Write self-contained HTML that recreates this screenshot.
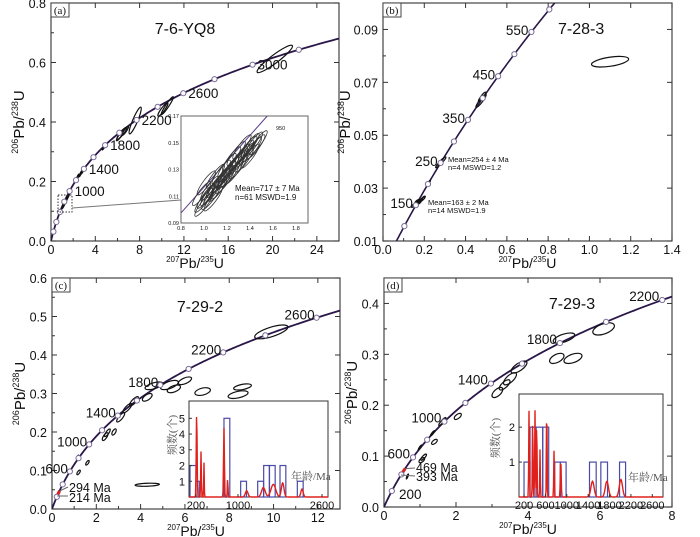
<!DOCTYPE html>
<html><head><meta charset="utf-8">
<style>
html,body{margin:0;padding:0;background:#fff;}
svg{display:block;font-family:"Liberation Sans",Arial,sans-serif;}
.cj{font-family:"Liberation Serif","Noto Serif CJK SC","Noto Sans CJK SC",serif;}
</style></head>
<body>
<svg id="fig" width="700" height="537" viewBox="0 0 700 537" xmlns="http://www.w3.org/2000/svg"></svg>
<script>
// ---------- data arrays ----------
const markerAgesA = [200,400,600,800,1000,1200,1400,1600,1800,2000,2200,2400,2600,2800,3000,3200];
const labelAgesA = [1000,1400,1800,2200,2600,3000];
const ellipsesA = [ // x, y, sx, sy, rho
 [20.2,0.612,1.6,0.046,0.93],[7.6,0.405,0.55,0.045,0.9],[10.5,0.455,0.55,0.030,0.95],[10.1,0.442,0.45,0.022,0.9],
 [6.4,0.362,0.45,0.020,0.9],[6.2,0.352,0.30,0.015,0.9],[6.7,0.37,0.30,0.015,0.9],[4.8,0.318,0.18,0.012,0.9],
 [2.7,0.228,0.15,0.012,0.95],[2.9,0.238,0.15,0.012,0.95],[2.4,0.215,0.12,0.010,0.95],
 [1.2,0.125,0.12,0.012,0.95],[1.3,0.132,0.12,0.012,0.95],[1.4,0.14,0.12,0.012,0.95],[1.5,0.148,0.12,0.012,0.95],[1.6,0.155,0.1,0.01,0.95],[1.1,0.118,0.1,0.01,0.95]
];
const insetA = [
 [1.00,0.107],[1.02,0.110],[1.05,0.112],[1.08,0.114],[1.10,0.118],[1.12,0.120],[1.15,0.122],[1.17,0.125],[1.20,0.127],
 [1.22,0.130],[1.25,0.133],[1.27,0.135],[1.30,0.138],[1.32,0.140],[1.35,0.143],[1.38,0.146],[1.40,0.148],[1.43,0.149],
 [1.05,0.116],[1.12,0.115],[1.18,0.121],[1.20,0.133],[1.26,0.128],[1.30,0.132],[1.35,0.137],[1.10,0.125],[0.98,0.112],
 [1.15,0.128],[1.24,0.138],[1.40,0.140],[1.45,0.147],[1.08,0.108],[1.02,0.120],[1.28,0.142],[1.33,0.147],
 [1.00,0.104],[1.06,0.109],[1.14,0.117],[1.19,0.124],[1.23,0.126],[1.29,0.135],[1.36,0.141],[1.42,0.145],[1.47,0.150]
];
const markerAgesB = [100,150,200,250,300,350,400,450,500,550,600];
const labelAgesB = [150,250,350,450,550];
const ellipsesB = [
 [1.10,0.0778,0.090,0.0020,0.5],[0.475,0.0630,0.025,0.0025,0.92],[0.48,0.0645,0.018,0.0018,0.9],
 [0.285,0.0402,0.020,0.0016,0.9],[0.27,0.0390,0.015,0.0013,0.9],[0.22,0.0320,0.010,0.0009,0.9],
 [0.15,0.0235,0.012,0.0008,0.8],[0.16,0.0240,0.012,0.0008,0.8],[0.17,0.0248,0.012,0.0008,0.8],[0.18,0.0252,0.012,0.0008,0.8],
 [0.19,0.0258,0.012,0.0008,0.8],[0.195,0.0262,0.010,0.0008,0.8],[0.175,0.0245,0.010,0.0007,0.8],[0.165,0.0250,0.010,0.0007,0.8]
];
const markerAgesC = [200,400,600,800,1000,1200,1400,1600,1800,2000,2200,2400,2600];
const labelAgesC = [600,1000,1400,1800,2200,2600];
const ellipsesC = [
 [9.9,0.46,0.75,0.018,0.7],[8.6,0.317,0.40,0.008,0.5],[8.4,0.297,0.45,0.010,0.5],[6.8,0.305,0.35,0.010,0.4],
 [6.0,0.333,0.30,0.010,0.6],[5.5,0.312,0.30,0.010,0.5],[5.3,0.322,0.40,0.012,0.6],[4.6,0.320,0.40,0.010,0.6],
 [4.3,0.290,0.22,0.010,0.6],[3.7,0.280,0.20,0.012,0.8],[3.4,0.262,0.20,0.012,0.8],[3.1,0.238,0.18,0.012,0.8],
 [2.5,0.198,0.13,0.010,0.8],[2.4,0.188,0.13,0.010,0.7],[2.8,0.200,0.10,0.008,0.6],[1.6,0.120,0.08,0.006,0.7],
 [1.2,0.095,0.08,0.006,0.7],[4.3,0.063,0.55,0.004,0.3],[1.15,0.135,0.05,0.005,0.9]
];
const markerAgesD = [200,400,600,800,1000,1200,1400,1600,1800,2000,2200];
const labelAgesD = [200,600,1000,1400,1800,2200];
const ellipsesD = [
 [5.0,0.332,0.30,0.010,0.6],[6.1,0.350,0.30,0.012,0.5],[4.8,0.292,0.20,0.010,0.5],[5.25,0.292,0.25,0.010,0.5],
 [3.75,0.275,0.22,0.012,0.7],[3.5,0.252,0.18,0.012,0.7],[3.35,0.240,0.15,0.010,0.7],[3.15,0.225,0.15,0.010,0.6],
 [2.05,0.178,0.10,0.006,0.6],[1.62,0.168,0.10,0.008,0.9],[1.4,0.128,0.08,0.005,0.6],[1.35,0.145,0.06,0.005,0.9],
 [1.1,0.098,0.08,0.006,0.8],[1.05,0.092,0.08,0.005,0.6],[1.0,0.117,0.05,0.005,0.9],[0.65,0.060,0.03,0.005,0.9],[4.25,0.190,0.20,0.008,0.5]
];
// histogram insets
const binStartsC = [86,200,733,1051,1375,1489,1597,1800,2130];
const binEndsC =   [200,263,844,1162,1486,1600,1708,1911,2241];
const binCountsC = [2,1,5,1,1,2,2,2,1];
const peakAgesC = [213,296,352,733,803,1165,1483,1673,1851,2219];
const peakHeightsC = [5.5,2.9,2.2,4.4,1.2,0.4,0.6,0.8,0.9,0.5];
const peakSigmaC = [8,6,5,8,6,25,35,45,25,22];
const binStartsD = [200,312,425,550,775,881,1425,1637,1987];
const binEndsD =   [312,425,550,662,881,987,1550,1762,2100];
const binCountsD = [1,2,2,2,1,1,1,1,1];
const peakAgesD = [294,362,406,437,500,625,762,887,1481,1750,2012];
const peakHeightsD = [2.5,2.4,2.5,2.3,1.4,2.8,1.35,1.1,0.45,0.45,0.5];
const peakSigmaD = [6,6,6,6,5,6,6,8,30,30,30];

// ---------- helpers ----------
const NS='http://www.w3.org/2000/svg';
const svg=document.getElementById('fig');
const L235=9.8485e-10, L238=1.55125e-10;
function c7(t){return Math.exp(L235*t*1e6)-1;}
function c6(t){return Math.exp(L238*t*1e6)-1;}
function mk(tag,attrs,parent,name){
  const e=document.createElementNS(NS,tag);
  for(const k in attrs)e.setAttribute(k,attrs[k]);
  
  
  (parent||svg).appendChild(e);return e;
}
function txt(s,x,y,size,anchor,parent,name,extra){
  const t=mk('text',Object.assign({x:x,y:y,'font-size':size,'text-anchor':anchor||'middle',fill:'#111'},extra||{}),parent,name);
  t.textContent=s;return t;
}
function makeAxes(p){
  const g=mk('g',{},svg,p.name);
  const sx=v=>p.L+(v-p.xd[0])/(p.xd[1]-p.xd[0])*(p.R-p.L);
  const sy=v=>p.B-(v-p.yd[0])/(p.yd[1]-p.yd[0])*(p.B-p.T);
  mk('rect',{x:p.L,y:p.T,width:p.R-p.L,height:p.B-p.T,fill:'none',stroke:'#444','stroke-width':1.2},g,'plot-frame');
  p.xt.forEach((v,i)=>{
    const x=sx(v);
    mk('line',{x1:x,x2:x,y1:p.B,y2:p.B-5,stroke:'#333'},g,'x-tick');
    mk('line',{x1:x,x2:x,y1:p.T,y2:p.T+5,stroke:'#333'},g,'x-tick-top');
    txt(p.xl[i],x,p.B+13,12.5,'middle',g,'x-tick-label');
    if(i<p.xt.length-1){const xm=sx((v+p.xt[i+1])/2);
      mk('line',{x1:xm,x2:xm,y1:p.B,y2:p.B-3,stroke:'#333'},g,'x-minor-tick');}
  });
  p.yt.forEach((v,i)=>{
    const y=sy(v);
    mk('line',{x1:p.L,x2:p.L+5,y1:y,y2:y,stroke:'#333'},g,'y-tick');
    mk('line',{x1:p.R,x2:p.R-5,y1:y,y2:y,stroke:'#333'},g,'y-tick-right');
    txt(p.yl[i],p.L-5,y+5,12.5,'end',g,'y-tick-label');
    const nv=v+(p.yt[1]-p.yt[0])/2;
    if(nv<p.yd[1]){const ym=sy(nv);
      mk('line',{x1:p.L,x2:p.L+3,y1:ym,y2:ym,stroke:'#333'},g,'y-minor-tick');}
  });
  mk('rect',{x:p.L,y:p.T,width:18,height:14,fill:'#fff',stroke:'#444','stroke-width':1},g,'panel-letter-box');
  txt(p.letter,p.L+9,p.T+11,11,'middle',g,'panel-letter',{'font-family':'Liberation Serif,serif'});
  const xt=mk('text',{x:(p.L+p.R)/2,y:p.B+27,'font-size':14,'text-anchor':'middle',fill:'#111'},g,'x-axis-title');
  xt.innerHTML='<tspan font-size="8" dy="-6">207</tspan><tspan dy="6">Pb/</tspan><tspan font-size="8" dy="-6">235</tspan><tspan dy="6">U</tspan>';
  const cyv=(p.T+p.B)/2;
  const yt=mk('text',{x:0,y:0,'font-size':15,'text-anchor':'middle',fill:'#111',transform:`translate(${p.L-p.yto},${cyv}) rotate(-90)`},g,'y-axis-title');
  yt.innerHTML='<tspan font-size="9" dy="-6">206</tspan><tspan dy="6">Pb/</tspan><tspan font-size="9" dy="-6">238</tspan><tspan dy="6">U</tspan>';
  const clipId='clip'+p.letter.replace(/\W/g,'');
  const cp=mk('clipPath',{id:clipId},g,'clip');
  mk('rect',{x:p.L,y:p.T,width:p.R-p.L,height:p.B-p.T},cp,'clip-rect');
  const inner=mk('g',{'clip-path':`url(#${clipId})`},g,'plot-area');
  return {g,inner,sx,sy};
}
function concordia(ax,tmax,color,w,tmin,name){
  let d='';const t0=tmin||0;
  for(let t=t0;t<=tmax;t+=(tmax-t0)/300){d+=(d?'L':'M')+ax.sx(c7(t)).toFixed(2)+','+ax.sy(c6(t)).toFixed(2);}
  mk('path',{d:d,fill:'none',stroke:color,'stroke-width':w},ax.inner,name);
}
function markers(ax,ages){
  ages.forEach(a=>{
    mk('circle',{cx:ax.sx(c7(a)),cy:ax.sy(c6(a)),r:2.6,fill:'#fff',stroke:'#7a6c98','stroke-width':1},ax.inner,'age-marker');
  });
}
function ellipse(ax,e,parent,color,w,name){
  const [x,y,ex,ey,rho]=e;
  const kx=ax.sx(x+ex)-ax.sx(x), ky=ax.sy(y+ey)-ax.sy(y);
  const a=kx*kx,c=ky*ky,b=rho*kx*ky;
  const m=(a+c)/2,dd=Math.sqrt(((a-c)/2)**2+b*b);
  const r1=Math.sqrt(m+dd),r2=Math.sqrt(Math.max(m-dd,0.3));
  const th=0.5*Math.atan2(2*b,a-c)*180/Math.PI;
  mk('ellipse',{cx:0,cy:0,rx:r1,ry:r2,fill:'none',stroke:color||'#111','stroke-width':w||1.2,
    transform:`translate(${ax.sx(x).toFixed(2)},${ax.sy(y).toFixed(2)}) rotate(${th.toFixed(2)})`},parent||ax.inner,name||'error-ellipse');
}
function ageLabels(ax,ages,anchor,dx,dy){
  ages.forEach(a=>txt(String(a),ax.sx(c7(a))+dx,ax.sy(c6(a))+dy,13.5,anchor,ax.g,'age-label'));
}
function histInset(o){
  const g=mk('g',{},svg,o.name);
  mk('rect',{x:o.L,y:o.T,width:o.R-o.L,height:o.B-o.T,fill:'#fff',stroke:'#333','stroke-width':1},g,'inset-frame');
  const hx=v=>o.L+(v-o.xd[0])/(o.xd[1]-o.xd[0])*(o.R-o.L);
  const hy=v=>o.B-v/o.ymax*(o.B-o.T);
  o.bs.forEach((s,i)=>{
    mk('rect',{x:hx(s),y:hy(o.bc[i]),width:hx(o.be[i])-hx(s),height:hy(0)-hy(o.bc[i]),fill:'none',stroke:'#4a4aa8','stroke-width':1.2},g,'histogram-bar');
  });
  let d='';
  for(let px=o.L;px<=o.R;px+=0.5){
    const age=o.xd[0]+(px-o.L)/(o.R-o.L)*(o.xd[1]-o.xd[0]);
    let v=0;o.pa.forEach((p,i)=>{v+=o.ph[i]*Math.exp(-0.5*((age-p)/o.ps[i])**2);});
    d+=(d?'L':'M')+px.toFixed(1)+','+hy(Math.min(v,o.ymax)).toFixed(2);
  }
  mk('path',{d:d,fill:'none',stroke:'#e0201c','stroke-width':1.4},g,'probability-density-curve');
  o.xt.forEach(v=>{
    mk('line',{x1:hx(v),x2:hx(v),y1:o.B,y2:o.B-3,stroke:'#333'},g,'inset-x-tick');
    txt(String(v),hx(v),o.B+12,11,'middle',g,'inset-x-tick-label');
  });
  o.yt.forEach(v=>{
    mk('line',{x1:o.L,x2:o.L+3,y1:hy(v),y2:hy(v),stroke:'#333'},g,'inset-y-tick');
    txt(String(v),o.L-4,hy(v)+4,11,'end',g,'inset-y-tick-label');
  });
  txt('频数(个)',0,0,11,'middle',g,'inset-y-axis-title',{transform:`translate(${o.ylx},${o.yly}) rotate(-90)`,fill:'#555','class':'cj'});
  txt('年龄/Ma',o.agx,o.agy,11,'start',g,'inset-age-label',{fill:'#555','class':'cj'});
}

// ---------- Panel (a) ----------
const A=makeAxes({name:'panel-a',letter:'(a)',L:51,R:339,T:3,B:241,xd:[0,26],yd:[0,0.8],yto:27,
  xt:[0,4,8,12,16,20,24],xl:['0','4','8','12','16','20','24'],yt:[0,0.2,0.4,0.6,0.8],yl:['0.0','0.2','0.4','0.6','0.8']});
concordia(A,3500,'#2a1648',1.8,0,'concordia-curve');
ellipsesA.forEach(e=>ellipse(A,e));
markers(A,markerAgesA);
ageLabels(A,labelAgesA,'start',5,5);
txt('7-6-YQ8',185,34,16,'middle',A.g,'sample-title');
mk('rect',{x:58,y:195,width:14,height:17,fill:'none',stroke:'#333','stroke-dasharray':'1.5,1.5'},A.g,'zoom-box');
mk('line',{x1:72,y1:208,x2:181,y2:200,stroke:'#777'},A.g,'zoom-leader-line');
(function(){
  const o={L:181,R:308,T:116,B:223};
  const g=mk('g',{},svg,'inset-a');
  mk('rect',{x:o.L,y:o.T,width:o.R-o.L,height:o.B-o.T,fill:'#fff',stroke:'#666'},g,'inset-frame');
  const ax={sx:v=>181+(v-0.8)*115,sy:v=>223-(v-0.09)*1337.5,inner:g};
  mk('line',{x1:ax.sx(0.8),y1:ax.sy(0.0975),x2:ax.sx(1.55),y2:ax.sy(0.17),stroke:'#5a3a8a','stroke-width':1},g,'inset-concordia');
  insetA.forEach(c=>ellipse(ax,[c[0],c[1],0.08,0.009,0.9],g,'#333',0.8,'inset-ellipse'));
  [0.8,1.0,1.2,1.4,1.6,1.8].forEach(v=>txt(v.toFixed(1),ax.sx(v),230,5.5,'middle',g,'inset-x-tick-label'));
  [0.09,0.11,0.13,0.15,0.17].forEach(v=>txt(v.toFixed(2),179,ax.sy(v)+2,5.5,'end',g,'inset-y-tick-label'));
  txt('950',276,130,5.5,'start',g,'inset-age-label');
  txt('Mean=717 ± 7 Ma',235,191,8,'start',g,'mean-age-text');
  txt('n=61 MSWD=1.9',235,200,8,'start',g,'mswd-text');
})();

// ---------- Panel (b) ----------
const Bp=makeAxes({name:'panel-b',letter:'(b)',L:383,R:672,T:3,B:241,xd:[0,1.4],yd:[0.01,0.1],yto:33,
  xt:[0,0.2,0.4,0.6,0.8,1.0,1.2,1.4],xl:['0.0','0.2','0.4','0.6','0.8','1.0','1.2','1.4'],
  yt:[0.01,0.03,0.05,0.07,0.09],yl:['0.01','0.03','0.05','0.07','0.09']});
concordia(Bp,700,'#2a1648',1.6,50,'concordia-curve');
ellipsesB.forEach(e=>ellipse(Bp,e));
markers(Bp,markerAgesB);
ageLabels(Bp,labelAgesB,'end',-3,3);
txt('7-28-3',558,34,16,'start',Bp.g,'sample-title');
txt('Mean=254 ± 4 Ma',448,162,7.5,'start',Bp.g,'mean-age-text-250');
txt('n=4 MSWD=1.2',448,170,7.5,'start',Bp.g,'mswd-text-250');
txt('Mean=163 ± 2 Ma',428,205,7.5,'start',Bp.g,'mean-age-text-150');
txt('n=14 MSWD=1.9',428,213,7.5,'start',Bp.g,'mswd-text-150');

// ---------- Panel (c) ----------
const C=makeAxes({name:'panel-c',letter:'(c)',L:52,R:340,T:278,B:509,xd:[0,13],yd:[0,0.6],yto:27,
  xt:[0,2,4,6,8,10,12],xl:['0','2','4','6','8','10','12'],yt:[0,0.1,0.2,0.3,0.4,0.5,0.6],yl:['0.0','0.1','0.2','0.3','0.4','0.5','0.6']});
concordia(C,2900,'#2a1648',1.8,0,'concordia-curve');
concordia(C,294,'#e0201c',3,214,'concordia-red-segment');
histInset({name:'inset-c',L:189,R:328,T:401,B:497,xd:[67,2714],ymax:6.1,bs:binStartsC,be:binEndsC,bc:binCountsC,
  pa:peakAgesC,ph:peakHeightsC,ps:peakSigmaC,xt:[200,1000,2600],yt:[1,2,3,4,5],ylx:176,yly:435,agx:291,agy:480});
ellipsesC.forEach(e=>ellipse(C,e));
markers(C,markerAgesC);
ageLabels(C,labelAgesC,'end',-2,2);
txt('7-29-2',200,312,16,'middle',C.g,'sample-title');
mk('line',{x1:C.sx(c7(294)),y1:C.sy(c6(294)),x2:68,y2:487,stroke:'#666'},C.g,'leader-line-294');
mk('line',{x1:C.sx(c7(214)),y1:C.sy(c6(214)),x2:68,y2:496,stroke:'#666'},C.g,'leader-line-214');
txt('294 Ma',69,492,12.5,'start',C.g,'age-annotation-294');
txt('214 Ma',69,502,12.5,'start',C.g,'age-annotation-214');

// ---------- Panel (d) ----------
const D=makeAxes({name:'panel-d',letter:'(d)',L:384,R:672,T:278,B:507,xd:[0,8],yd:[0,0.45],yto:27,
  xt:[0,2,4,6,8],xl:['0','2','4','6','8'],yt:[0,0.1,0.2,0.3,0.4],yl:['0.0','0.1','0.2','0.3','0.4']});
concordia(D,2400,'#2a1648',1.8,0,'concordia-curve');
concordia(D,469,'#e0201c',3,393,'concordia-red-segment');
histInset({name:'inset-d',L:519,R:663,T:394,B:497,xd:[106,2800],ymax:2.95,bs:binStartsD,be:binEndsD,bc:binCountsD,
  pa:peakAgesD,ph:peakHeightsD,ps:peakSigmaD,xt:[200,600,1000,1400,1800,2200,2600],yt:[1,2],ylx:499,yly:438,agx:628,agy:481});
ellipsesD.forEach(e=>ellipse(D,e));
markers(D,markerAgesD);
txt('200',399,499,13.5,'start',D.g,'age-label');
ageLabels(D,labelAgesD.slice(1),'end',-3,1);
txt('7-29-3',572,309,16,'middle',D.g,'sample-title');
mk('line',{x1:D.sx(c7(469)),y1:D.sy(c6(469)),x2:415,y2:468,stroke:'#666'},D.g,'leader-line-469');
mk('line',{x1:D.sx(c7(393)),y1:D.sy(c6(393)),x2:415,y2:476,stroke:'#666'},D.g,'leader-line-393');
txt('469 Ma',416,472,12.5,'start',D.g,'age-annotation-469');
txt('393 Ma',416,481,12.5,'start',D.g,'age-annotation-393');
</script>
</body></html>
